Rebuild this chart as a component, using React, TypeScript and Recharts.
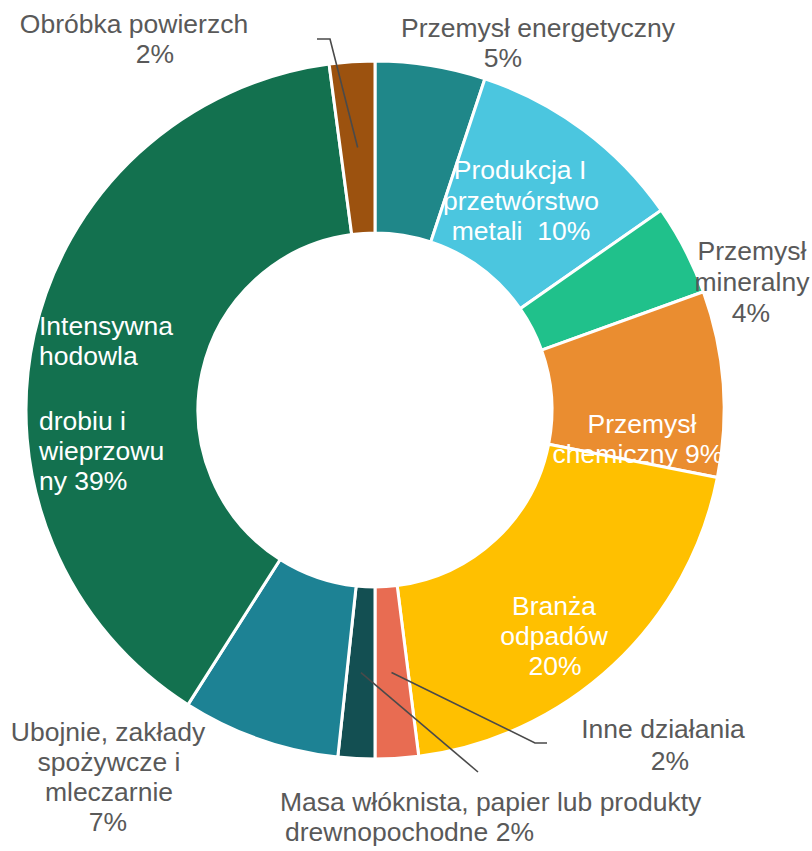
import React from "react";
import { PieChart, Pie, Cell } from "recharts";

const categories = [
  "Przemysł energetyczny",
  "Produkcja I przetwórstwo metali",
  "Przemysł mineralny",
  "Przemysł chemiczny",
  "Branża odpadów",
  "Inne działania",
  "Masa włóknista, papier lub produkty drewnopochodne",
  "Ubojnie, zakłady spożywcze i mleczarnie",
  "Intensywna hodowla drobiu i wieprzowiny",
  "Obróbka powierzchni",
];

const shares = [5.1, 10.2, 4.2, 8.6, 19.9, 2.0, 1.7, 7.3, 38.9, 2.1];

const labelLines: string[][] = [
  ["Przemysł energetyczny", "5%"],
  ["Produkcja I", "przetwórstwo", "metali  10%"],
  ["Przemysł", "mineralny", "4%"],
  ["Przemysł", "chemiczny 9%"],
  ["Branża", "odpadów", "20%"],
  ["Inne działania", "2%"],
  ["Masa włóknista, papier lub produkty", "drewnopochodne 2%"],
  ["Ubojnie, zakłady", "spożywcze i", "mleczarnie", "7%"],
  ["Intensywna", "hodowla", "", "drobiu i", "wieprzowu", "ny 39%"],
  ["Obróbka powierzch", "2%"],
];

const colors = [
  "#1F8789",
  "#4BC6DF",
  "#20C18B",
  "#EA8D30",
  "#FFC000",
  "#E86C52",
  "#134F52",
  "#1D8294",
  "#13714F",
  "#9C520F",
];

const data = categories.map((name, i) => ({ name, value: shares[i] }));

// label placement (pixels relative to the pie centre): per line [dx, dy(baseline)]
const CX = 375;
const CY = 410;
const INNER = 177;
const OUTER = 349;

type LineLayout = { dx: number; dy: number };
type LabelLayout = {
  inside: boolean;
  anchor: "start" | "middle" | "end";
  lines: LineLayout[];
  leader?: { dx: number; dy: number }[];
};

const labelLayout: LabelLayout[] = [
  { inside: false, anchor: "middle", lines: [{ dx: 163, dy: -373 }, { dx: 128, dy: -343 }] },
  { inside: true, anchor: "middle", lines: [{ dx: 145, dy: -231 }, { dx: 146, dy: -200 }, { dx: 146, dy: -170 }] },
  { inside: false, anchor: "middle", lines: [{ dx: 377, dy: -150 }, { dx: 377, dy: -119 }, { dx: 376, dy: -88 }] },
  { inside: true, anchor: "middle", lines: [{ dx: 267, dy: 23 }, { dx: 263, dy: 53 }] },
  { inside: true, anchor: "middle", lines: [{ dx: 179, dy: 205 }, { dx: 179, dy: 235 }, { dx: 180, dy: 265 }] },
  {
    inside: false,
    anchor: "middle",
    lines: [{ dx: 288, dy: 328 }, { dx: 295, dy: 360 }],
    leader: [{ dx: 160, dy: 333 }, { dx: 172, dy: 333 }],
  },
  {
    inside: false,
    anchor: "start",
    lines: [{ dx: -95, dy: 401 }, { dx: -90, dy: 431 }],
    leader: [{ dx: 103, dy: 362 }],
  },
  { inside: false, anchor: "middle", lines: [{ dx: -267, dy: 331 }, { dx: -266, dy: 361 }, { dx: -266, dy: 391 }, { dx: -267, dy: 421 }] },
  { inside: true, anchor: "start", lines: [{ dx: -336, dy: -75 }, { dx: -336, dy: -45 }, { dx: -336, dy: -15 }, { dx: -336, dy: 20 }, { dx: -336, dy: 50 }, { dx: -336, dy: 80 }] },
  {
    inside: false,
    anchor: "middle",
    lines: [{ dx: -241, dy: -377 }, { dx: -220, dy: -347 }],
    leader: [{ dx: -45, dy: -371 }, { dx: -58, dy: -371 }],
  },
];

const RAD = Math.PI / 180;

const renderLabel = (props: any) => {
  const { index, midAngle } = props;
  const cx = typeof props.cx === "number" ? props.cx : CX;
  const cy = typeof props.cy === "number" ? props.cy : CY;
  const layout = labelLayout[index];
  const lines = labelLines[index];
  if (!layout) return null;
  const fill = layout.inside ? "#FFFFFF" : "#595959";
  let leaderPath: string | null = null;
  if (layout.leader) {
    const r = (INNER + OUTER) / 2;
    const sx = cx + r * Math.cos(-midAngle * RAD);
    const sy = cy + r * Math.sin(-midAngle * RAD);
    leaderPath =
      `M${sx},${sy}` + layout.leader.map((p) => ` L${cx + p.dx},${cy + p.dy}`).join("");
  }
  return (
    <g key={`lbl-${index}`}>
      {leaderPath && <path d={leaderPath} stroke="#4A4A4A" strokeWidth={1.6} fill="none" />}
      {lines.map((t, j) =>
        t ? (
          <text
            key={j}
            x={cx + layout.lines[j].dx}
            y={cy + layout.lines[j].dy}
            textAnchor={layout.anchor}
            fill={fill}
            fontSize={26.5}
            fontFamily="'Liberation Sans', Arial, sans-serif"
            style={{ whiteSpace: "pre" }}
          >
            {t}
          </text>
        ) : null
      )}
    </g>
  );
};

export default function App() {
  return (
    <div style={{ position: "absolute", left: 0, top: 0, width: 812, height: 851, background: "#fff" }}>
      <PieChart width={812} height={851} margin={{ top: 0, right: 0, bottom: 0, left: 0 }}>
        <Pie
          data={data}
          dataKey="value"
          nameKey="name"
          cx={CX}
          cy={CY}
          innerRadius={INNER}
          outerRadius={OUTER}
          startAngle={90}
          endAngle={-270}
          stroke="#FFFFFF"
          strokeWidth={3}
          label={renderLabel}
          labelLine={false}
          isAnimationActive={false}
        >
          {data.map((d, i) => (
            <Cell key={d.name} fill={colors[i]} />
          ))}
        </Pie>
      </PieChart>
    </div>
  );
}
